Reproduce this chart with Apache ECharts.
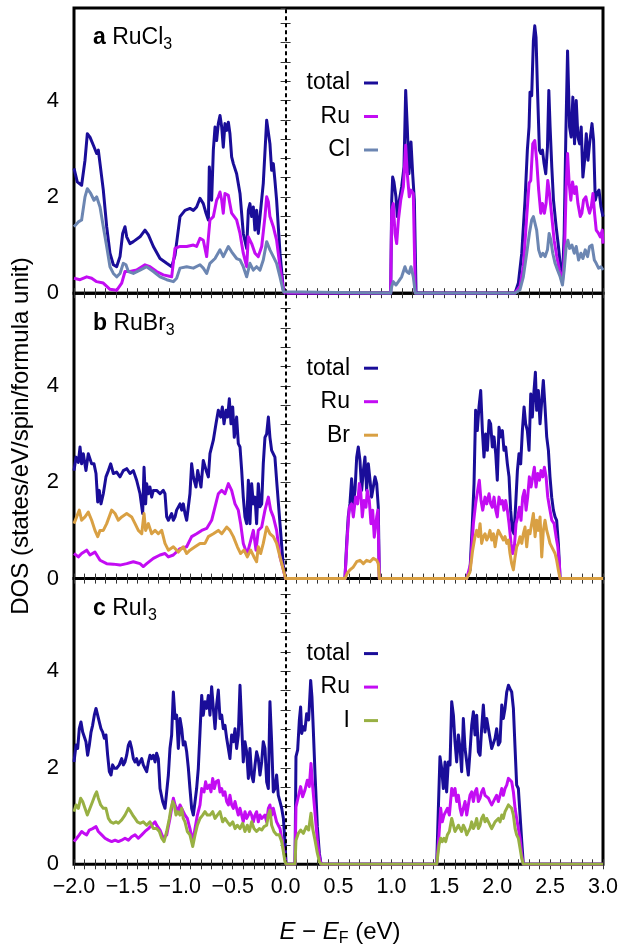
<!DOCTYPE html>
<html>
<head>
<meta charset="utf-8">
<script src="https://cdn.jsdelivr.net/npm/echarts@6/dist/echarts.min.js"></script>
<style>
html,body{margin:0;padding:0;background:#fff;}
#chart{width:621px;height:948px;}
</style>
</head>
<body>
<div id="chart"></div>
<script>
// ---------------- DATA (energy E - E_F in eV, DOS in states/eV/spin/formula unit) ----------------
const panelLetters = ['a', 'b', 'c'];
const compoundBase = ['RuCl', 'RuBr', 'RuI'];
const compoundSub = ['3', '3', '3'];
const seriesNames = [['total', 'Ru', 'Cl'], ['total', 'Ru', 'Br'], ['total', 'Ru', 'I']];
const xTicks = [-2.0, -1.5, -1.0, -0.5, 0.0, 0.5, 1.0, 1.5, 2.0, 2.5, 3.0];
const yTicks = [0, 2, 4];
const fermiLevel = [0];

const aTotal = [[-2.0,2.59],[-1.969,2.31],[-1.928,2.24],[-1.896,2.76],[-1.874,3.31],[-1.849,3.24],[-1.817,3.07],[-1.786,2.90],[-1.770,2.97],[-1.754,2.69],[-1.723,2.14],[-1.691,1.38],[-1.660,0.83],[-1.628,0.59],[-1.597,0.55],[-1.565,0.76],[-1.540,1.24],[-1.518,1.38],[-1.502,1.17],[-1.471,1.03],[-1.439,1.07],[-1.376,1.17],[-1.329,1.31],[-1.297,1.21],[-1.250,0.97],[-1.187,0.72],[-1.124,0.62],[-1.077,0.55],[-1.045,0.79],[-0.998,1.59],[-0.951,1.72],[-0.904,1.76],[-0.872,1.72],[-0.841,1.79],[-0.809,1.97],[-0.778,1.86],[-0.752,1.66],[-0.730,1.52],[-0.721,2.62],[-0.699,1.93],[-0.683,2.97],[-0.667,3.45],[-0.652,3.17],[-0.636,3.52],[-0.620,3.69],[-0.604,3.45],[-0.589,3.03],[-0.573,3.52],[-0.557,3.38],[-0.541,3.55],[-0.526,3.31],[-0.510,2.83],[-0.494,2.69],[-0.463,2.48],[-0.431,2.07],[-0.400,1.24],[-0.368,0.93],[-0.352,1.72],[-0.337,1.86],[-0.321,1.59],[-0.305,1.79],[-0.290,1.31],[-0.274,1.72],[-0.258,1.24],[-0.242,1.59],[-0.211,2.28],[-0.179,3.59],[-0.163,3.59],[-0.148,3.10],[-0.132,2.55],[-0.116,2.69],[-0.101,2.34],[-0.085,1.93],[-0.053,0.83],[-0.021,0.07],[-0.006,0],
[0.993,0],[1.003,1.93],[1.012,2.41],[1.024,2.31],[1.043,2.0],[1.056,1.59],[1.075,1.93],[1.097,2.21],[1.119,2.62],[1.135,4.21],[1.150,3.45],[1.166,2.48],[1.185,3.14],[1.201,2.48],[1.217,1.93],[1.233,0],
[2.168,0],[2.200,0.21],[2.232,0.83],[2.263,1.93],[2.285,2.97],[2.301,3.45],[2.310,4.17],[2.326,4.10],[2.342,5.24],[2.355,5.55],[2.367,5.31],[2.380,4.28],[2.399,2.97],[2.412,2.90],[2.428,2.97],[2.443,2.69],[2.459,2.48],[2.475,3.03],[2.488,4.21],[2.500,3.45],[2.516,2.62],[2.532,1.93],[2.557,1.38],[2.579,0.97],[2.601,0.48],[2.617,0.28],[2.633,1.24],[2.649,3.31],[2.665,5.03],[2.684,3.45],[2.699,3.24],[2.715,4.07],[2.731,3.10],[2.747,4.0],[2.763,3.24],[2.779,3.10],[2.794,3.45],[2.810,2.41],[2.826,2.76],[2.842,3.31],[2.858,2.76],[2.873,3.10],[2.896,3.52],[2.911,3.17],[2.927,1.93],[2.943,2.07],[2.962,2.14],[2.981,1.79],[3.0,1.59]];

const aRu = [[-2.0,0.31],[-1.943,0.28],[-1.880,0.34],[-1.833,0.31],[-1.786,0.24],[-1.723,0.21],[-1.660,0.08],[-1.597,0.06],[-1.581,0.06],[-1.549,0.21],[-1.518,0.45],[-1.471,0.45],[-1.408,0.48],[-1.329,0.59],[-1.282,0.55],[-1.219,0.45],[-1.156,0.38],[-1.077,0.34],[-1.061,0.34],[-1.045,0.93],[-0.998,0.97],[-0.935,0.97],[-0.872,1.0],[-0.841,0.97],[-0.809,1.14],[-0.778,1.10],[-0.746,0.76],[-0.715,1.52],[-0.683,1.59],[-0.652,1.93],[-0.636,2.0],[-0.620,2.10],[-0.604,1.93],[-0.589,1.66],[-0.573,2.07],[-0.541,2.03],[-0.526,2.07],[-0.510,1.66],[-0.494,1.66],[-0.463,1.52],[-0.431,1.24],[-0.400,0.83],[-0.368,0.55],[-0.352,1.17],[-0.321,1.03],[-0.289,0.83],[-0.258,0.76],[-0.226,0.97],[-0.195,1.59],[-0.179,2.0],[-0.163,1.90],[-0.148,1.59],[-0.116,1.38],[-0.101,1.24],[-0.085,1.10],[-0.053,0.55],[-0.021,0.07],[-0.006,0],
[0.993,0],[1.003,1.72],[1.018,1.86],[1.034,1.24],[1.050,1.03],[1.066,1.52],[1.088,1.93],[1.113,2.21],[1.135,3.07],[1.150,2.48],[1.169,2.0],[1.185,2.14],[1.207,2.07],[1.226,0],
[2.168,0],[2.215,0.14],[2.247,0.55],[2.279,1.59],[2.301,2.28],[2.317,2.34],[2.336,3.10],[2.355,3.17],[2.373,2.76],[2.392,2.14],[2.412,1.66],[2.428,1.86],[2.446,1.66],[2.462,1.86],[2.478,2.34],[2.494,2.07],[2.516,1.59],[2.538,1.10],[2.563,0.76],[2.588,0.48],[2.617,0.24],[2.636,0.83],[2.652,2.21],[2.665,2.90],[2.680,2.28],[2.696,1.93],[2.712,2.31],[2.731,2.07],[2.747,2.21],[2.763,1.86],[2.785,1.59],[2.800,1.66],[2.816,1.93],[2.838,2.0],[2.857,1.79],[2.873,1.66],[2.889,1.79],[2.905,2.07],[2.920,1.66],[2.936,1.31],[2.958,1.24],[2.974,1.17],[2.993,1.31],[3.0,1.03]];

const aCl = [[-2.0,1.38],[-1.959,1.48],[-1.928,1.52],[-1.896,2.0],[-1.874,2.17],[-1.842,2.07],[-1.811,1.93],[-1.786,2.0],[-1.754,1.79],[-1.723,1.38],[-1.691,0.97],[-1.660,0.55],[-1.628,0.41],[-1.597,0.34],[-1.565,0.41],[-1.534,0.62],[-1.509,0.59],[-1.486,0.45],[-1.439,0.41],[-1.376,0.48],[-1.313,0.55],[-1.250,0.45],[-1.187,0.34],[-1.124,0.28],[-1.061,0.24],[-1.030,0.31],[-0.998,0.52],[-0.935,0.55],[-0.872,0.52],[-0.809,0.59],[-0.778,0.52],[-0.746,0.41],[-0.715,0.62],[-0.667,0.72],[-0.620,0.90],[-0.589,0.76],[-0.541,0.97],[-0.510,0.86],[-0.463,0.72],[-0.431,0.69],[-0.400,0.55],[-0.368,0.34],[-0.337,0.62],[-0.305,0.48],[-0.274,0.55],[-0.242,0.48],[-0.211,0.69],[-0.179,1.07],[-0.148,0.90],[-0.116,0.76],[-0.085,0.62],[-0.053,0.34],[-0.021,0.03],[-0.006,0],
[0.993,0],[1.003,0.14],[1.018,0.24],[1.043,0.17],[1.066,0.24],[1.097,0.34],[1.128,0.55],[1.144,0.45],[1.166,0.41],[1.185,0.55],[1.207,0.34],[1.226,0],
[2.168,0],[2.215,0.07],[2.247,0.34],[2.279,0.83],[2.304,1.24],[2.326,1.52],[2.342,1.59],[2.358,1.59],[2.373,1.31],[2.392,0.90],[2.412,0.76],[2.431,0.83],[2.453,0.76],[2.475,0.90],[2.491,1.24],[2.507,1.10],[2.525,0.83],[2.547,0.62],[2.570,0.48],[2.595,0.34],[2.617,0.17],[2.633,0.48],[2.652,0.97],[2.668,1.10],[2.684,0.93],[2.706,1.0],[2.728,0.83],[2.747,0.97],[2.769,0.69],[2.791,0.83],[2.810,0.72],[2.832,0.90],[2.854,0.76],[2.873,0.97],[2.896,1.0],[2.918,0.69],[2.936,0.62],[2.958,0.52],[2.981,0.55],[3.0,0.48]];

const bTotal = [[-2.0,2.24],[-1.981,2.52],[-1.959,2.41],[-1.943,2.73],[-1.928,2.38],[-1.912,2.59],[-1.887,2.24],[-1.865,2.59],[-1.849,2.62],[-1.833,2.38],[-1.811,2.38],[-1.792,2.18],[-1.776,1.59],[-1.761,1.83],[-1.745,1.55],[-1.723,1.76],[-1.698,2.11],[-1.675,2.24],[-1.653,2.38],[-1.628,2.18],[-1.597,2.21],[-1.565,2.11],[-1.534,2.24],[-1.502,2.28],[-1.471,2.18],[-1.439,2.24],[-1.408,2.04],[-1.376,1.76],[-1.351,1.35],[-1.338,2.31],[-1.323,1.55],[-1.313,1.97],[-1.297,1.76],[-1.282,1.90],[-1.266,1.69],[-1.250,1.83],[-1.219,1.83],[-1.187,1.76],[-1.156,1.83],[-1.140,1.76],[-1.124,1.28],[-1.108,1.21],[-1.093,1.28],[-1.077,1.35],[-1.061,1.21],[-1.045,1.28],[-1.030,1.42],[-0.998,1.55],[-0.982,1.42],[-0.967,1.55],[-0.951,1.35],[-0.935,1.21],[-0.904,1.76],[-0.888,2.38],[-0.872,2.11],[-0.847,1.90],[-0.831,2.24],[-0.815,2.24],[-0.800,1.90],[-0.778,2.45],[-0.762,2.45],[-0.746,2.21],[-0.730,2.11],[-0.715,2.59],[-0.699,2.73],[-0.683,2.87],[-0.658,3.21],[-0.636,3.49],[-0.614,3.35],[-0.598,3.56],[-0.582,3.21],[-0.563,3.49],[-0.548,3.35],[-0.532,3.73],[-0.516,3.21],[-0.500,3.56],[-0.485,2.93],[-0.463,3.35],[-0.447,2.80],[-0.431,2.73],[-0.415,2.24],[-0.400,1.69],[-0.384,1.28],[-0.368,1.14],[-0.352,2.04],[-0.337,1.14],[-0.321,1.97],[-0.305,1.55],[-0.289,1.69],[-0.274,1.14],[-0.258,1.97],[-0.242,1.49],[-0.226,1.55],[-0.211,2.38],[-0.195,2.93],[-0.179,3.0],[-0.163,3.35],[-0.148,2.93],[-0.132,2.66],[-0.116,2.66],[-0.101,2.52],[-0.085,2.04],[-0.053,1.14],[-0.021,0.24],[0.0,0],
[0.561,0],[0.577,0.73],[0.592,1.28],[0.608,1.55],[0.624,2.07],[0.640,1.55],[0.656,1.83],[0.672,2.52],[0.687,2.73],[0.703,2.45],[0.719,1.83],[0.735,2.24],[0.750,2.52],[0.766,1.83],[0.782,2.38],[0.798,2.04],[0.813,1.69],[0.829,1.90],[0.845,2.11],[0.861,1.97],[0.876,1.49],[0.886,0],
[1.711,0],[1.743,0.18],[1.765,1.14],[1.781,1.97],[1.796,3.49],[1.812,3.07],[1.828,3.56],[1.844,3.90],[1.860,3.07],[1.875,2.52],[1.891,3.0],[1.907,2.66],[1.923,3.28],[1.938,3.21],[1.954,2.73],[1.970,2.94],[1.986,2.59],[2.001,2.04],[2.017,3.14],[2.033,2.94],[2.049,3.07],[2.064,2.66],[2.080,2.73],[2.096,2.38],[2.112,2.11],[2.127,1.42],[2.143,1.0],[2.159,0.93],[2.175,1.55],[2.191,2.24],[2.206,2.59],[2.222,2.38],[2.238,3.07],[2.254,3.56],[2.269,3.21],[2.285,3.07],[2.301,2.66],[2.317,3.83],[2.332,3.35],[2.348,3.90],[2.361,4.28],[2.373,3.49],[2.389,3.90],[2.405,3.21],[2.421,3.69],[2.436,4.11],[2.452,3.56],[2.468,2.94],[2.484,2.66],[2.499,2.11],[2.515,1.69],[2.531,1.42],[2.547,1.28],[2.562,1.21],[2.578,0.73],[2.594,0],[3.0,0]];

const bRu = [[-2.0,0.52],[-1.959,0.45],[-1.928,0.52],[-1.880,0.59],[-1.849,0.49],[-1.802,0.55],[-1.754,0.38],[-1.691,0.31],[-1.628,0.30],[-1.565,0.28],[-1.502,0.31],[-1.439,0.35],[-1.376,0.31],[-1.345,0.25],[-1.313,0.31],[-1.250,0.42],[-1.187,0.49],[-1.140,0.52],[-1.108,0.45],[-1.061,0.49],[-0.998,0.62],[-0.935,0.66],[-0.888,0.87],[-0.841,0.93],[-0.793,1.0],[-0.746,1.04],[-0.699,1.21],[-0.667,1.49],[-0.636,1.76],[-0.604,1.83],[-0.573,1.76],[-0.541,1.97],[-0.526,2.0],[-0.510,1.83],[-0.478,1.55],[-0.447,1.42],[-0.425,1.14],[-0.400,0.73],[-0.377,0.59],[-0.362,0.52],[-0.337,0.73],[-0.305,1.0],[-0.280,0.59],[-0.258,1.0],[-0.226,1.07],[-0.195,1.42],[-0.163,1.69],[-0.141,1.42],[-0.116,1.28],[-0.085,1.0],[-0.053,0.45],[-0.021,0.18],[0.0,0],
[0.561,0],[0.583,0.86],[0.602,1.48],[0.624,1.55],[0.640,1.28],[0.662,1.69],[0.681,1.55],[0.697,1.97],[0.709,1.83],[0.725,1.28],[0.741,1.62],[0.760,1.48],[0.772,1.83],[0.791,1.62],[0.807,1.14],[0.823,1.42],[0.838,0.86],[0.861,1.28],[0.873,1.42],[0.886,0],
[1.711,0],[1.749,0.31],[1.775,1.14],[1.796,1.55],[1.815,1.83],[1.831,2.04],[1.847,1.62],[1.863,1.42],[1.885,1.69],[1.901,1.55],[1.923,1.76],[1.938,1.55],[1.954,1.48],[1.970,1.69],[1.986,1.42],[2.001,1.28],[2.017,1.69],[2.033,1.55],[2.049,1.62],[2.064,1.42],[2.080,1.62],[2.096,1.42],[2.112,1.14],[2.131,0.73],[2.146,0.52],[2.162,0.66],[2.178,1.14],[2.194,1.28],[2.210,1.48],[2.225,1.21],[2.241,1.69],[2.257,1.83],[2.273,1.42],[2.288,1.69],[2.304,2.11],[2.320,1.90],[2.336,2.11],[2.351,2.31],[2.367,1.90],[2.383,2.18],[2.399,2.04],[2.414,2.24],[2.430,2.11],[2.446,2.31],[2.462,2.11],[2.478,1.69],[2.494,1.48],[2.516,1.21],[2.538,1.14],[2.557,0.86],[2.573,0.66],[2.588,0.31],[2.594,0],[3.0,0]];

const bBr = [[-2.0,1.14],[-1.975,1.28],[-1.950,1.42],[-1.928,1.21],[-1.896,1.28],[-1.865,1.38],[-1.833,1.21],[-1.802,1.0],[-1.776,0.87],[-1.754,1.0],[-1.723,1.0],[-1.691,1.14],[-1.644,1.42],[-1.612,1.35],[-1.581,1.21],[-1.549,1.28],[-1.502,1.35],[-1.455,1.28],[-1.423,1.14],[-1.392,1.0],[-1.360,0.93],[-1.338,1.35],[-1.323,1.0],[-1.297,1.14],[-1.266,0.93],[-1.234,1.0],[-1.203,0.93],[-1.171,1.0],[-1.140,0.73],[-1.108,0.59],[-1.061,0.66],[-1.014,0.55],[-0.967,0.66],[-0.935,0.52],[-0.904,0.59],[-0.856,0.66],[-0.809,0.73],[-0.762,0.73],[-0.730,0.87],[-0.683,0.93],[-0.636,1.0],[-0.604,0.93],[-0.557,1.07],[-0.526,1.0],[-0.494,0.87],[-0.456,0.66],[-0.425,0.52],[-0.393,0.59],[-0.362,0.45],[-0.330,0.59],[-0.299,0.45],[-0.274,0.35],[-0.258,0.66],[-0.236,0.52],[-0.211,0.73],[-0.179,1.07],[-0.148,0.93],[-0.116,0.87],[-0.085,0.73],[-0.053,0.45],[-0.021,0.18],[0.0,0],
[0.561,0],[0.583,0.11],[0.608,0.18],[0.640,0.24],[0.672,0.35],[0.703,0.38],[0.735,0.31],[0.766,0.38],[0.798,0.35],[0.829,0.42],[0.861,0.38],[0.876,0.31],[0.886,0],
[1.711,0],[1.743,0.14],[1.768,0.59],[1.790,0.87],[1.806,1.0],[1.822,0.87],[1.838,1.14],[1.853,0.73],[1.869,0.87],[1.885,0.93],[1.901,0.80],[1.917,0.87],[1.932,1.0],[1.948,0.80],[1.964,0.93],[1.980,0.66],[1.995,0.87],[2.011,1.0],[2.027,0.93],[2.043,0.97],[2.058,0.80],[2.074,0.87],[2.090,0.73],[2.106,0.80],[2.121,0.52],[2.137,0.31],[2.153,0.18],[2.169,0.45],[2.184,0.66],[2.200,0.73],[2.216,0.87],[2.232,0.73],[2.247,0.93],[2.263,1.07],[2.279,0.66],[2.295,1.0],[2.310,0.93],[2.326,1.14],[2.342,1.35],[2.358,0.87],[2.373,1.21],[2.389,1.0],[2.405,1.28],[2.421,0.45],[2.436,1.0],[2.452,1.21],[2.468,1.0],[2.484,0.87],[2.499,0.73],[2.515,0.73],[2.531,0.59],[2.547,0.52],[2.562,0.38],[2.578,0.18],[2.594,0],[3.0,0]];

const cTotal = [[-2.0,2.12],[-1.981,2.47],[-1.965,2.40],[-1.950,2.81],[-1.934,2.95],[-1.918,2.74],[-1.902,2.74],[-1.887,2.54],[-1.871,2.26],[-1.855,2.47],[-1.839,2.74],[-1.824,2.88],[-1.808,3.09],[-1.792,3.23],[-1.776,3.23],[-1.761,2.95],[-1.745,2.81],[-1.729,2.74],[-1.713,2.61],[-1.698,2.68],[-1.682,2.26],[-1.666,1.92],[-1.650,1.85],[-1.635,2.06],[-1.619,1.99],[-1.597,1.99],[-1.572,2.06],[-1.549,2.19],[-1.534,2.06],[-1.518,2.12],[-1.502,2.26],[-1.486,2.47],[-1.471,2.54],[-1.455,2.40],[-1.439,2.19],[-1.423,2.12],[-1.408,2.19],[-1.392,2.06],[-1.376,2.12],[-1.360,2.19],[-1.345,2.06],[-1.329,1.99],[-1.313,1.92],[-1.297,2.12],[-1.282,2.26],[-1.266,2.19],[-1.250,2.26],[-1.234,2.12],[-1.219,2.30],[-1.203,2.19],[-1.187,1.57],[-1.162,1.30],[-1.140,1.16],[-1.124,1.50],[-1.108,1.85],[-1.093,2.40],[-1.077,2.68],[-1.061,3.57],[-1.045,3.02],[-1.030,3.09],[-1.014,2.40],[-0.998,3.02],[-0.982,2.81],[-0.967,2.47],[-0.951,2.54],[-0.935,2.33],[-0.919,1.99],[-0.904,1.57],[-0.888,1.16],[-0.872,1.02],[-0.856,1.30],[-0.841,1.57],[-0.825,1.99],[-0.809,2.74],[-0.793,3.50],[-0.778,3.09],[-0.762,3.37],[-0.746,3.23],[-0.730,3.50],[-0.715,3.09],[-0.699,3.68],[-0.683,3.23],[-0.667,2.81],[-0.652,3.30],[-0.636,3.61],[-0.620,3.02],[-0.604,3.09],[-0.589,2.81],[-0.573,2.88],[-0.557,2.61],[-0.541,2.40],[-0.526,2.19],[-0.510,2.68],[-0.494,2.54],[-0.478,2.81],[-0.463,2.40],[-0.447,2.68],[-0.431,3.71],[-0.415,2.88],[-0.400,2.12],[-0.384,2.54],[-0.368,2.33],[-0.352,1.78],[-0.337,2.40],[-0.321,1.85],[-0.305,1.71],[-0.289,2.06],[-0.274,2.33],[-0.258,2.19],[-0.242,1.85],[-0.226,2.12],[-0.211,2.54],[-0.195,2.40],[-0.179,1.71],[-0.163,1.57],[-0.148,3.37],[-0.132,2.54],[-0.116,1.50],[-0.101,1.57],[-0.085,1.85],[-0.069,1.43],[-0.053,1.30],[-0.037,1.16],[-0.021,0.95],[-0.006,0.47],[0.005,0],
[0.089,0],[0.098,2.23],[0.114,2.37],[0.130,2.99],[0.142,3.26],[0.152,2.71],[0.168,2.85],[0.183,2.78],[0.199,3.12],[0.218,2.99],[0.237,3.81],[0.249,3.47],[0.262,2.78],[0.278,1.88],[0.300,0.78],[0.319,0.23],[0.335,0],
[1.428,0],[1.444,1.16],[1.459,2.23],[1.475,1.99],[1.491,1.57],[1.507,2.12],[1.522,1.50],[1.538,2.12],[1.554,2.06],[1.570,3.37],[1.586,3.09],[1.601,2.54],[1.617,2.12],[1.633,2.68],[1.649,2.40],[1.664,1.92],[1.680,3.02],[1.696,2.40],[1.712,2.12],[1.727,1.85],[1.743,2.33],[1.759,2.88],[1.775,3.16],[1.790,2.68],[1.806,3.09],[1.822,2.33],[1.838,2.26],[1.853,2.81],[1.869,3.30],[1.885,2.74],[1.901,3.02],[1.917,2.81],[1.932,2.81],[1.948,2.40],[1.964,2.40],[1.980,2.61],[1.995,2.81],[2.011,2.47],[2.027,2.54],[2.043,3.30],[2.058,3.02],[2.074,3.23],[2.090,3.57],[2.106,3.71],[2.121,3.64],[2.137,3.57],[2.153,3.23],[2.169,2.40],[2.184,1.64],[2.200,1.57],[2.216,1.02],[2.232,0.47],[2.247,0],[3.0,0]];

const cRu = [[-2.0,0.47],[-1.975,0.54],[-1.950,0.61],[-1.928,0.68],[-1.905,0.64],[-1.880,0.61],[-1.855,0.71],[-1.824,0.74],[-1.792,0.78],[-1.770,0.68],[-1.738,0.61],[-1.707,0.54],[-1.675,0.50],[-1.644,0.47],[-1.612,0.50],[-1.581,0.47],[-1.549,0.50],[-1.518,0.54],[-1.486,0.50],[-1.455,0.57],[-1.423,0.61],[-1.392,0.54],[-1.360,0.61],[-1.329,0.68],[-1.297,0.74],[-1.266,0.81],[-1.234,0.88],[-1.219,0.81],[-1.187,0.71],[-1.156,0.54],[-1.124,0.61],[-1.093,0.95],[-1.061,1.37],[-1.045,1.23],[-1.030,1.23],[-1.014,1.09],[-0.998,1.23],[-0.982,1.16],[-0.967,1.16],[-0.951,1.02],[-0.929,0.95],[-0.904,0.74],[-0.878,0.47],[-0.856,0.74],[-0.834,1.02],[-0.809,1.23],[-0.793,1.57],[-0.771,1.50],[-0.756,1.71],[-0.740,1.57],[-0.721,1.64],[-0.705,1.50],[-0.689,1.78],[-0.674,1.57],[-0.658,1.71],[-0.636,1.74],[-0.620,1.50],[-0.604,1.57],[-0.589,1.43],[-0.573,1.50],[-0.557,1.30],[-0.541,1.23],[-0.526,1.43],[-0.510,1.23],[-0.494,1.16],[-0.478,1.30],[-0.463,1.16],[-0.447,1.02],[-0.431,1.16],[-0.415,1.02],[-0.400,0.88],[-0.384,1.09],[-0.368,0.95],[-0.352,1.02],[-0.337,1.09],[-0.321,1.02],[-0.305,0.88],[-0.289,1.02],[-0.274,1.09],[-0.258,0.88],[-0.242,1.02],[-0.226,0.95],[-0.211,0.95],[-0.195,1.02],[-0.179,0.88],[-0.163,1.16],[-0.148,1.23],[-0.132,1.02],[-0.116,1.16],[-0.101,1.02],[-0.085,0.88],[-0.069,0.81],[-0.053,0.74],[-0.037,0.54],[-0.021,0.33],[-0.006,0.12],[0.005,0],
[0.089,0],[0.098,1.19],[0.120,1.40],[0.142,1.61],[0.161,1.40],[0.183,1.54],[0.205,1.74],[0.224,1.61],[0.240,2.09],[0.256,1.61],[0.278,1.06],[0.300,0.50],[0.319,0.16],[0.335,0],
[1.428,0],[1.450,0.61],[1.466,1.16],[1.481,0.88],[1.497,1.02],[1.513,1.02],[1.529,1.16],[1.548,1.02],[1.570,1.57],[1.586,1.43],[1.601,1.57],[1.617,1.30],[1.633,1.43],[1.649,1.16],[1.664,1.02],[1.680,1.16],[1.696,1.30],[1.712,1.02],[1.727,1.23],[1.743,1.43],[1.759,1.50],[1.775,1.30],[1.790,1.50],[1.806,1.57],[1.822,1.30],[1.838,1.37],[1.853,1.50],[1.869,1.57],[1.885,1.43],[1.901,1.43],[1.917,1.37],[1.932,1.30],[1.948,1.23],[1.964,1.30],[1.980,1.37],[1.995,1.43],[2.011,1.30],[2.027,1.43],[2.043,1.57],[2.058,1.43],[2.074,1.57],[2.090,1.64],[2.106,1.78],[2.121,1.78],[2.137,1.71],[2.153,1.50],[2.169,1.16],[2.184,0.95],[2.200,0.74],[2.216,0.54],[2.232,0.19],[2.247,0],[3.0,0]];

const cI = [[-2.0,1.09],[-1.981,1.23],[-1.959,1.16],[-1.937,1.37],[-1.918,1.30],[-1.896,1.16],[-1.874,1.02],[-1.849,1.16],[-1.824,1.30],[-1.802,1.43],[-1.786,1.50],[-1.770,1.37],[-1.748,1.23],[-1.723,1.16],[-1.698,1.16],[-1.675,0.95],[-1.653,0.88],[-1.628,0.85],[-1.603,0.88],[-1.581,0.85],[-1.549,0.92],[-1.518,1.02],[-1.486,1.16],[-1.464,1.09],[-1.445,1.02],[-1.423,0.95],[-1.401,0.88],[-1.376,0.85],[-1.345,0.88],[-1.313,0.81],[-1.282,0.88],[-1.250,0.74],[-1.219,0.74],[-1.193,0.68],[-1.171,0.54],[-1.149,0.47],[-1.124,0.68],[-1.099,0.95],[-1.083,1.16],[-1.067,1.30],[-1.052,1.23],[-1.036,1.02],[-1.020,1.09],[-0.998,1.02],[-0.982,1.16],[-0.967,0.95],[-0.951,0.88],[-0.929,0.68],[-0.904,0.61],[-0.878,0.37],[-0.856,0.61],[-0.834,0.81],[-0.809,0.95],[-0.784,1.02],[-0.762,1.09],[-0.740,1.02],[-0.715,1.02],[-0.689,1.09],[-0.667,0.95],[-0.645,1.02],[-0.620,1.09],[-0.595,0.88],[-0.573,0.95],[-0.551,0.88],[-0.526,0.81],[-0.500,0.88],[-0.478,0.74],[-0.456,0.81],[-0.431,0.74],[-0.406,0.85],[-0.384,0.68],[-0.362,0.81],[-0.343,0.68],[-0.321,0.88],[-0.299,0.74],[-0.274,0.68],[-0.248,0.74],[-0.226,0.71],[-0.204,0.78],[-0.179,0.81],[-0.163,1.02],[-0.148,1.12],[-0.132,0.81],[-0.110,0.68],[-0.085,0.61],[-0.060,0.61],[-0.037,0.47],[-0.021,0.26],[-0.006,0.06],[0.005,0],
[0.089,0],[0.098,0.50],[0.120,0.64],[0.142,0.71],[0.168,0.64],[0.196,0.78],[0.218,0.71],[0.240,1.06],[0.256,0.74],[0.278,0.50],[0.300,0.23],[0.319,0.06],[0.335,0],
[1.428,0],[1.450,0.40],[1.466,0.54],[1.481,0.47],[1.497,0.54],[1.513,0.47],[1.529,0.61],[1.548,0.68],[1.570,0.95],[1.586,0.81],[1.601,0.68],[1.617,0.74],[1.633,0.81],[1.649,0.74],[1.664,0.68],[1.680,0.81],[1.696,0.74],[1.712,0.61],[1.727,0.68],[1.743,0.74],[1.759,0.88],[1.775,0.74],[1.790,0.81],[1.806,0.95],[1.822,0.74],[1.838,0.81],[1.853,0.95],[1.869,1.02],[1.885,0.88],[1.901,0.95],[1.917,0.88],[1.932,0.81],[1.948,0.74],[1.964,0.81],[1.980,0.88],[1.995,0.88],[2.011,0.95],[2.027,0.88],[2.043,1.02],[2.058,0.95],[2.074,1.09],[2.090,1.16],[2.106,1.23],[2.121,1.23],[2.137,1.16],[2.153,1.02],[2.169,0.74],[2.184,0.61],[2.200,0.54],[2.216,0.33],[2.232,0.12],[2.247,0],[3.0,0]];

const panelData = [[aTotal, aRu, aCl], [bTotal, bRu, bBr], [cTotal, cRu, cI]];
const seriesColors = [['#1a0d99', '#c30cf3', '#6c86b2'], ['#1a0d99', '#c30cf3', '#d9a043'], ['#1a0d99', '#c30cf3', '#98b043']];

// ---------------- LAYOUT ----------------
const FONT = '"Liberation Sans", Arial, Helvetica, sans-serif';
const PL = 74, PW = 529;
const panelTops = [8, 293.2, 578.6];
const panelH = [285.2, 285.4, 285.7];
const YMAX = 5.92;

function fmtX(v) {
  const k = Math.round(v * 10);
  if (k % 5 !== 0) return '';
  return (v < -1e-9 ? '\u2212' : '') + Math.abs(v).toFixed(1);
}
function fmtY(v) {
  const r = Math.round(v);
  if (Math.abs(v - r) < 1e-6 && yTicks.indexOf(r) >= 0) return String(r);
  return '';
}

const grid = [], xAxis = [], yAxis = [], series = [], graphic = [];
const tickStyle = { color: '#333', width: 1 };
for (let i = 0; i < 3; i++) {
  grid.push({ left: PL, top: panelTops[i], width: PW, height: panelH[i], show: true,
              borderColor: '#000', borderWidth: 3, backgroundColor: 'transparent' });
  xAxis.push({ gridIndex: i, type: 'value', min: -2, max: 3, interval: 0.1, position: 'bottom',
    axisLine: { show: false }, splitLine: { show: false },
    axisTick: { show: true, inside: true, length: 5, lineStyle: tickStyle },
    axisLabel: { show: i === 2, formatter: fmtX, fontSize: 21.5, color: '#000', fontFamily: FONT, margin: 12 } });
  xAxis.push({ gridIndex: i, type: 'value', min: -2, max: 3, interval: 0.1, position: 'top',
    axisLine: { show: false }, splitLine: { show: false },
    axisTick: { show: true, inside: true, length: 5, lineStyle: tickStyle },
    axisLabel: { show: false } });
  yAxis.push({ gridIndex: i, type: 'value', min: 0, max: YMAX, interval: 0.4, position: 'left',
    axisLine: { show: false }, splitLine: { show: false },
    axisTick: { show: true, inside: true, length: 5, lineStyle: tickStyle },
    axisLabel: { show: true, formatter: fmtY, fontSize: 22, color: '#000', fontFamily: FONT, margin: 15, showMaxLabel: false } });
  yAxis.push({ gridIndex: i, type: 'value', min: 0, max: YMAX, interval: 0.4, position: 'right',
    axisLine: { show: false }, splitLine: { show: false },
    axisTick: { show: true, inside: true, length: 5, lineStyle: tickStyle },
    axisLabel: { show: false } });

  for (let s = 0; s < 3; s++) {
    const ser = {
      type: 'line', name: seriesNames[i][s], xAxisIndex: 2 * i, yAxisIndex: 2 * i,
      data: panelData[i][s], showSymbol: false, symbol: 'none', animation: false,
      lineStyle: { color: seriesColors[i][s], width: 3, join: 'round' },
      itemStyle: { color: seriesColors[i][s] }, z: 3 + s
    };
    if (s === 0) {
      ser.markLine = { silent: true, symbol: 'none', animation: false, label: { show: false },
        lineStyle: { color: '#000', type: [4, 3], width: 2 },
        data: fermiLevel.map(v => ({ xAxis: v })) };
    }
    series.push(ser);
  }

  // panel label
  graphic.push({ type: 'text', x: 93, y: panelTops[i] + 30, silent: true,
    style: { text: '{b|' + panelLetters[i] + '} {n|' + compoundBase[i] + '}{s|' + compoundSub[i] + '}',
      textVerticalAlign: 'middle', fill: '#000', font: '23px ' + FONT,
      rich: { b: { fontWeight: 'bold', fontSize: 23, fontFamily: FONT },
              n: { fontSize: 23, fontFamily: FONT },
              s: { fontSize: 16, fontFamily: FONT, padding: [14, 0, 0, 0] } } } });
  // legend
  const rows = [75, 108.5, 142];
  for (let s = 0; s < 3; s++) {
    const yy = panelTops[i] + rows[s];
    graphic.push({ type: 'text', x: 350, y: yy, silent: true,
      style: { text: seriesNames[i][s], textAlign: 'right', textVerticalAlign: 'middle', fill: '#000', font: '23px ' + FONT } });
    graphic.push({ type: 'line', silent: true, shape: { x1: 364, y1: yy, x2: 378, y2: yy },
      style: { stroke: seriesColors[i][s], lineWidth: 3 } });
  }
}

// axis titles
graphic.push({ type: 'text', x: 21, y: 436, rotation: Math.PI / 2, silent: true,
  style: { text: 'DOS (states/eV/spin/formula unit)', textAlign: 'center', textVerticalAlign: 'middle', fill: '#000', font: '24px ' + FONT } });
graphic.push({ type: 'text', x: 340, y: 932, silent: true,
  style: { text: '{i|E} \u2212 {i|E}{s|F} (eV)', textAlign: 'center', textVerticalAlign: 'middle', fill: '#000', font: '24px ' + FONT,
    rich: { i: { fontStyle: 'italic', fontSize: 24, fontFamily: FONT },
            s: { fontSize: 16, fontFamily: FONT, padding: [14, 0, 0, 0] } } } });

const chart = echarts.init(document.getElementById('chart'), null, { renderer: 'canvas', width: 621, height: 948 });
chart.setOption({ animation: false, backgroundColor: '#fff', grid, xAxis, yAxis, series, graphic });
</script>
</body>
</html>
